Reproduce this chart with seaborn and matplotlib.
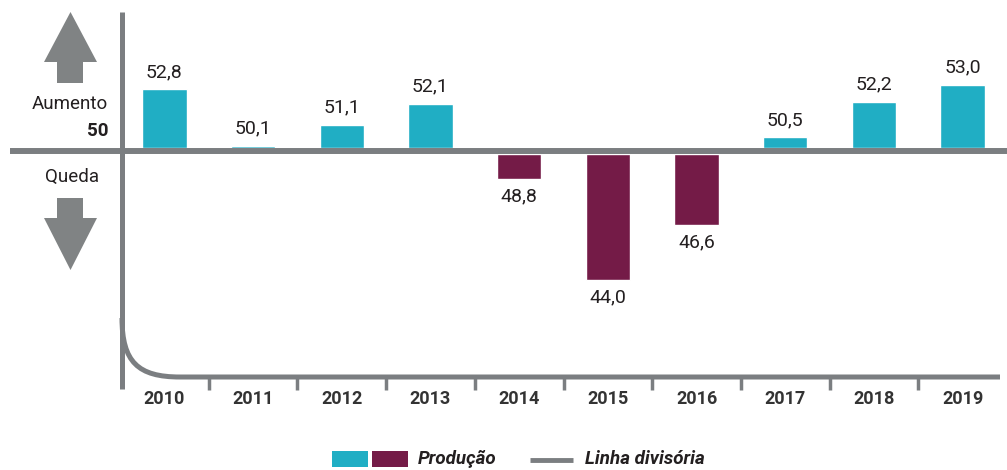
import seaborn as sns
import matplotlib.pyplot as plt
from matplotlib.patches import Polygon, Rectangle, PathPatch
from matplotlib.path import Path
from matplotlib.lines import Line2D

# Dados
anos = ["2010", "2011", "2012", "2013", "2014", "2015", "2016", "2017", "2018", "2019"]
producao = [52.8, 50.1, 51.1, 52.1, 48.8, 44.0, 46.6, 50.5, 52.2, 53.0]
linha_divisoria = 50

azul = "#20AEC4"
vinho = "#741B47"
cinza = "#7B7E81"
texto = "#231F20"
fonte = ["Roboto", "DejaVu Sans"]

W, H = 1007, 470
escala = 21.0          # px por unidade
meia_linha = 3 / escala  # metade da espessura da linha divisória


def fx(x):
    return x / W


def fy(y):
    return 1 - y / H


sns.set_style("white")
plt.rcParams["font.family"] = fonte

fig = plt.figure(figsize=(W / 100, H / 100), dpi=100)
ax = fig.add_axes([fx(120), fy(377), fx(1007) - fx(120), fy(12) - fy(377)])

diferenca = [v - linha_divisoria for v in producao]
cores = [azul if d > 0 else vinho for d in diferenca]
sns.barplot(x=anos, y=diferenca, hue=anos, palette=cores, dodge=False,
            width=0.5, legend=False, saturation=1, ax=ax)

# barras partem da borda da linha divisória
for p, d in zip(ax.patches, diferenca):
    p.set_y(meia_linha if d > 0 else -meia_linha)

ax.set_ylim(-(377 - 151) / escala, (151 - 12) / escala)
ax.set_xlim(-0.5, 9.5)
sns.despine(ax=ax, left=True, bottom=True)
ax.set_yticks([])
ax.set_xlabel("")
ax.set_ylabel("")
ax.tick_params(axis="x", length=0, pad=9.5)
for lbl in ax.get_xticklabels():
    lbl.set_fontweight("bold")
    lbl.set_fontsize(13)
    lbl.set_color("#333333")

# rótulos de valor
for i, (v, d) in enumerate(zip(producao, diferenca)):
    txt = f"{v:.1f}".replace(".", ",")
    if d > 0:
        ax.annotate(txt, (i, d + meia_linha), xytext=(0, 6), textcoords="offset points",
                    ha="center", va="bottom", fontsize=14, color=texto)
    else:
        ax.annotate(txt, (i, d - meia_linha), xytext=(0, -6), textcoords="offset points",
                    ha="center", va="top", fontsize=14, color=texto)

# linha divisória (50)
fig.add_artist(Line2D([fx(10), fx(1007)], [fy(151), fy(151)], color=cinza, lw=4.3,
                      solid_capstyle="butt", zorder=5))
# eixo vertical
fig.add_artist(Line2D([fx(122), fx(122)], [fy(12), fy(389)], color=cinza, lw=3.6,
                      solid_capstyle="butt", zorder=5))
# curva inferior
verts = [(fx(122), fy(318)), (fx(122), fy(362)), (fx(138), fy(377)), (fx(180), fy(377)),
         (fx(1000), fy(377))]
codes = [Path.MOVETO, Path.CURVE4, Path.CURVE4, Path.CURVE4, Path.LINETO]
fig.add_artist(PathPatch(Path(verts, codes), transform=fig.transFigure, fill=False,
                         edgecolor=cinza, lw=3.6, capstyle="butt"))
# marcas entre anos
ax.vlines([i + 0.5 for i in range(9)], 0, -13 / 365, transform=ax.get_xaxis_transform(),
          color=cinza, lw=2.5, clip_on=False)

# setas
seta_cima = [(70.5, 12), (97, 62), (83, 62), (83, 83), (57, 83), (57, 62), (44, 62)]
seta_baixo = [(57, 198), (83, 198), (83, 218), (97, 218), (70.5, 270), (44, 218), (57, 218)]
for pts in (seta_cima, seta_baixo):
    fig.add_artist(Polygon([(fx(x), fy(y)) for x, y in pts], closed=True,
                           transform=fig.transFigure, color="#808384", lw=0))

fig.text(fx(108), fy(104), "Aumento", ha="right", va="center", fontsize=13.5, color=texto)
fig.text(fx(108), fy(131), "50", ha="right", va="center", fontsize=13.5, color=texto,
         fontweight="bold")
fig.text(fx(72), fy(177), "Queda", ha="center", va="center", fontsize=13.5, color=texto)

# legenda
fig.add_artist(Rectangle((fx(332), fy(467)), fx(36), fy(451) - fy(467), color=azul,
                         transform=fig.transFigure, lw=0))
fig.add_artist(Rectangle((fx(372), fy(467)), fx(36), fy(451) - fy(467), color=vinho,
                         transform=fig.transFigure, lw=0))
fig.text(fx(418), fy(459), "Produção", ha="left", va="center", fontsize=13.5,
         fontweight="bold", fontstyle="italic", color=texto)
fig.add_artist(Line2D([fx(530), fx(573)], [fy(460), fy(460)], color=cinza, lw=3.5,
                      solid_capstyle="butt"))
fig.text(fx(585), fy(459), "Linha divisória", ha="left", va="center", fontsize=13.5,
         fontweight="bold", fontstyle="italic", color=texto)

fig.savefig("out.png", dpi=100)
